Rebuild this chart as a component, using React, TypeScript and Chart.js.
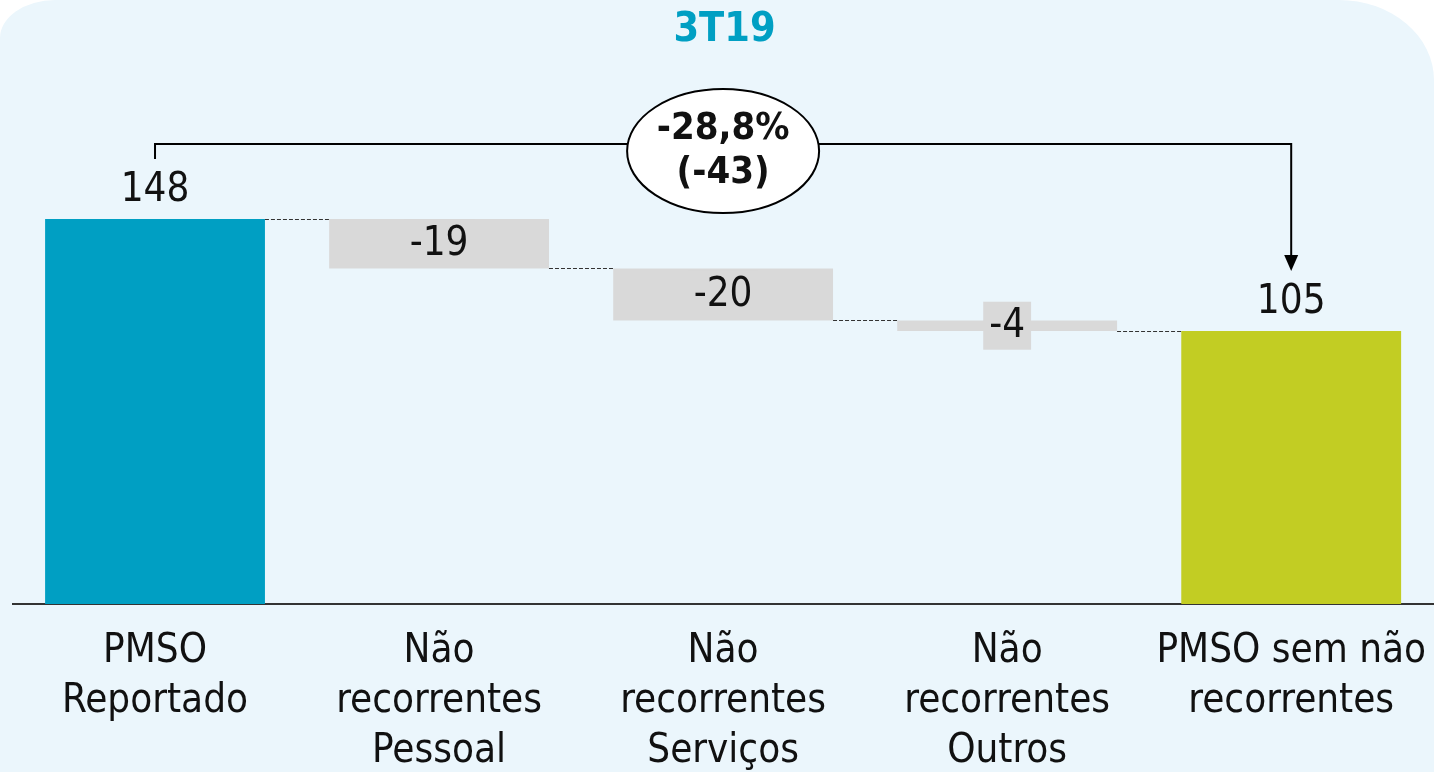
import React, { useEffect, useRef } from "react";
import { Chart, registerables } from "chart.js";

Chart.register(...registerables);

const chartTitle = "3T19";
const categories: string[][] = [
  ["PMSO", "Reportado"],
  ["Não", "recorrentes", "Pessoal"],
  ["Não", "recorrentes", "Serviços"],
  ["Não", "recorrentes", "Outros"],
  ["PMSO sem não", "recorrentes"],
];
const startValue = 148;
const deltas = [-19, -20, -4];
const endValue = 105;
const variationPct = "-28,8%";
const variationAbs = "(-43)";

const barColors = ["#009FC3", "#D9D9D9", "#D9D9D9", "#D9D9D9", "#C2CD23"];

const FONT = "'DejaVu Sans Condensed', 'DejaVu Sans', sans-serif";

// floating ranges built from the values
const levels: number[] = [startValue];
deltas.forEach((d) => levels.push(levels[levels.length - 1] + d));
const ranges: [number, number][] = [
  [0, startValue],
  ...deltas.map((d, i) => {
    const a = levels[i];
    const b = levels[i + 1];
    return [Math.min(a, b), Math.max(a, b)] as [number, number];
  }),
  [0, endValue],
];
const labelTexts = [String(startValue), ...deltas.map((d) => String(d)), String(endValue)];
const connectorLevels = [startValue, ...levels.slice(1)];

const overlay = {
  id: "overlay",
  afterDatasetsDraw(chart: any) {
    const { ctx, scales } = chart;
    const y = scales.y;
    const bars = chart.getDatasetMeta(0).data as any[];
    const props = bars.map((b) => b.getProps(["x", "y", "base", "width"], true));
    ctx.save();
    // dashed connectors
    ctx.strokeStyle = "#333";
    ctx.lineWidth = 1;
    ctx.setLineDash([4, 2]);
    for (let i = 0; i < props.length - 1; i++) {
      const py = Math.round(y.getPixelForValue(connectorLevels[i])) + 0.5;
      ctx.beginPath();
      ctx.moveTo(props[i].x + props[i].width / 2, py);
      ctx.lineTo(props[i + 1].x - props[i + 1].width / 2, py);
      ctx.stroke();
    }
    ctx.setLineDash([]);
    // value labels
    ctx.font = `40px ${FONT}`;
    ctx.textAlign = "center";
    ctx.textBaseline = "middle";
    props.forEach((p, i) => {
      const txt = labelTexts[i];
      if (i === 0 || i === props.length - 1) {
        const top = Math.min(p.y, p.base);
        ctx.fillStyle = "#111";
        ctx.fillText(txt, p.x, top - 28);
      } else {
        const cy = (p.y + p.base) / 2;
        const w = ctx.measureText(txt).width + 12;
        ctx.fillStyle = barColors[i];
        ctx.fillRect(p.x - w / 2, cy - 24, w, 48);
        ctx.fillStyle = "#111";
        ctx.fillText(txt, p.x, cy + 1);
      }
    });
    // bracket with arrow
    const first = props[0];
    const last = props[props.length - 1];
    const firstTop = Math.min(first.y, first.base);
    const lastTop = Math.min(last.y, last.base);
    const bracketY = firstTop - 75;
    const tipY = lastTop - 60;
    ctx.strokeStyle = "#000";
    ctx.lineWidth = 2;
    ctx.beginPath();
    ctx.moveTo(first.x, firstTop - 60);
    ctx.lineTo(first.x, bracketY);
    ctx.lineTo(last.x, bracketY);
    ctx.lineTo(last.x, tipY - 14);
    ctx.stroke();
    ctx.fillStyle = "#000";
    ctx.beginPath();
    ctx.moveTo(last.x - 7, tipY - 16);
    ctx.lineTo(last.x + 7, tipY - 16);
    ctx.lineTo(last.x, tipY);
    ctx.closePath();
    ctx.fill();
    // ellipse
    const cx = (first.x + last.x) / 2;
    const cy = bracketY + 7;
    ctx.beginPath();
    ctx.ellipse(cx, cy, 96, 62, 0, 0, Math.PI * 2);
    ctx.fillStyle = "#fff";
    ctx.fill();
    ctx.lineWidth = 2;
    ctx.strokeStyle = "#000";
    ctx.stroke();
    ctx.fillStyle = "#111";
    ctx.font = `bold 38px ${FONT}`;
    ctx.fillText(variationPct, cx, cy - 22);
    ctx.fillText(variationAbs, cx, cy + 22);
    ctx.restore();
  },
};

const CANVAS_W = 1449;
const CANVAS_H = 772;

export default function App() {
  const ref = useRef<HTMLCanvasElement | null>(null);
  useEffect(() => {
    if (!ref.current) return;
    const chart = new Chart(ref.current, {
      type: "bar",
      data: {
        labels: categories,
        datasets: [
          {
            data: ranges as any,
            backgroundColor: barColors,
            borderWidth: 0,
            barPercentage: 0.774,
            categoryPercentage: 1,
          },
        ],
      },
      options: {
        responsive: false,
        animation: false,
        layout: { padding: { left: 0, right: 0, top: 0, bottom: -28 } },
        plugins: {
          legend: { display: false },
          tooltip: { enabled: false },
          title: {
            display: true,
            text: chartTitle,
            color: "#009FC3",
            font: { family: FONT, size: 41, weight: "bold", lineHeight: 1.2 },
            padding: { top: 6, bottom: 0 },
          },
        },
        scales: {
          x: {
            grid: { display: false, drawTicks: false },
            border: { display: true, color: "#333", width: 2 },
            ticks: {
              color: "#111",
              font: { family: FONT, size: 40, lineHeight: 1.25 },
              padding: 23,
              autoSkip: false,
              maxRotation: 0,
            },
          },
          y: {
            display: true,
            min: 0,
            max: 211,
            grid: { display: false, drawTicks: false },
            border: { display: false },
            ticks: { display: false },
            afterFit: (scale: any) => {
              scale.width = 13;
            },
          },
        },
      },
      plugins: [overlay],
    });
    return () => chart.destroy();
  }, []);
  return (
    <div style={{ position: "fixed", inset: 0, background: "#fff", overflow: "hidden" }}>
      <div
        style={{
          position: "absolute",
          left: 0,
          top: 0,
          width: 1434,
          height: 772,
          background: "#EBF6FC",
          borderTopLeftRadius: "55px 38px",
          borderTopRightRadius: "95px 80px",
        }}
      />
      <canvas
        ref={ref}
        width={CANVAS_W}
        height={CANVAS_H}
        style={{ position: "absolute", left: 0, top: 0, width: CANVAS_W, height: CANVAS_H }}
      />
    </div>
  );
}
